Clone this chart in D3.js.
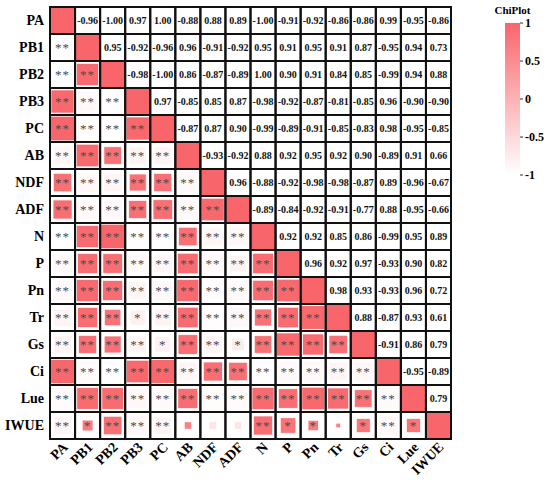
<!DOCTYPE html>
<html>
<head>
<meta charset="utf-8">
<script src="https://cdn.jsdelivr.net/npm/d3@7"></script>
<style>
  body { margin: 0; background: #fff; }
</style>
</head>
<body>
<div id="chart-container"></div>
<script>
// variables in matrix order
const vars = ["PA", "PB1", "PB2", "PB3", "PC", "AB", "NDF", "ADF", "N", "P", "Pn", "Tr", "Gs", "Ci", "Lue", "IWUE"];

// upper triangle, row by row (values right of the diagonal)
const rPA   = [-0.96, -1.00, 0.97, 1.00, -0.88, 0.88, 0.89, -1.00, -0.91, -0.92, -0.86, -0.86, 0.99, -0.95, -0.86];
const rPB1  = [0.95, -0.92, -0.96, 0.96, -0.91, -0.92, 0.95, 0.91, 0.95, 0.91, 0.87, -0.95, 0.94, 0.73];
const rPB2  = [-0.98, -1.00, 0.86, -0.87, -0.89, 1.00, 0.90, 0.91, 0.84, 0.85, -0.99, 0.94, 0.88];
const rPB3  = [0.97, -0.85, 0.85, 0.87, -0.98, -0.92, -0.87, -0.81, -0.85, 0.96, -0.90, -0.90];
const rPC   = [-0.87, 0.87, 0.90, -0.99, -0.89, -0.91, -0.85, -0.83, 0.98, -0.95, -0.85];
const rAB   = [-0.93, -0.92, 0.88, 0.92, 0.95, 0.92, 0.90, -0.89, 0.91, 0.66];
const rNDF  = [0.96, -0.88, -0.92, -0.98, -0.98, -0.87, 0.89, -0.96, -0.67];
const rADF  = [-0.89, -0.84, -0.92, -0.91, -0.77, 0.88, -0.95, -0.66];
const rN    = [0.92, 0.92, 0.85, 0.86, -0.99, 0.95, 0.89];
const rP    = [0.96, 0.92, 0.97, -0.93, 0.90, 0.82];
const rPn   = [0.98, 0.93, -0.93, 0.96, 0.72];
const rTr   = [0.88, -0.87, 0.93, 0.61];
const rGs   = [-0.91, 0.86, 0.79];
const rCi   = [-0.95, -0.89];
const rLue  = [0.79];
const upperRows = [rPA, rPB1, rPB2, rPB3, rPC, rAB, rNDF, rADF, rN, rP, rPn, rTr, rGs, rCi, rLue, []];

// significance cut-offs on |r| (n fixed)
const sig2 = 0.84;   // **
const sig1 = 0.70;   // *

const legendTicks = [1, 0.5, 0, -0.5, -1];
const legendTickLabels = ["1", "0.5", "0", "-0.5", "-1"];

// build full symmetric matrix
const n = vars.length;
const cells = [];
for (let i = 0; i < n; i++) {
    for (let j = 0; j < n; j++) {
        let r;
        if (i === j) r = 1;
        else if (j > i) r = upperRows[i][j - i - 1];
        else r = upperRows[j][i - j - 1];
        cells.push({ row: i, col: j, r: r });
    }
}

const width = 550, height = 485;
const svg = d3.select("#chart-container")
    .append("svg")
    .attr("width", width)
    .attr("height", height)
    .style("font-family", "'Liberation Serif', 'Times New Roman', serif");

const x = d3.scaleBand().domain(d3.range(n)).range([50, 451]);
const y = d3.scaleBand().domain(d3.range(n)).range([7, 439]);

const red = "#F8666B";
const color = d3.scaleLinear().domain([-1, 1]).range(["#ffffff", red]);
// side of the lower-triangle squares, relative to cell
const sizeScale = d3.scaleLinear().domain([0.52, 1]).range([0, 0.98]).clamp(true);

const stars = r => Math.abs(r) >= sig2 ? "**" : (Math.abs(r) >= sig1 ? "*" : "");

const g = svg.append("g");

// cell backgrounds
g.selectAll("rect.bg")
    .data(cells)
    .join("rect")
    .attr("class", "bg")
    .attr("x", d => x(d.col))
    .attr("y", d => y(d.row))
    .attr("width", x.bandwidth())
    .attr("height", y.bandwidth())
    .attr("fill", d => d.row === d.col ? red : "#fff");

// lower triangle squares
const lower = cells.filter(d => d.row > d.col);
g.selectAll("rect.sq")
    .data(lower)
    .join("rect")
    .attr("class", "sq")
    .attr("x", d => x(d.col) + x.bandwidth() * (1 - sizeScale(Math.abs(d.r))) / 2)
    .attr("y", d => y(d.row) + y.bandwidth() / 2 - x.bandwidth() * sizeScale(Math.abs(d.r)) / 2)
    .attr("width", d => x.bandwidth() * sizeScale(Math.abs(d.r)))
    .attr("height", d => x.bandwidth() * sizeScale(Math.abs(d.r)))
    .attr("fill", d => color(d.r))
    .attr("stroke", "#fff")
    .attr("stroke-width", 0.6);

g.selectAll("text.star")
    .data(lower)
    .join("text")
    .attr("class", "star")
    .attr("x", d => x(d.col) + x.bandwidth() / 2)
    .attr("y", d => y(d.row) + y.bandwidth() / 2 + 4.5)
    .attr("text-anchor", "middle")
    .style("font-size", "13px")
    .style("letter-spacing", "1px")
    .style("fill", "#4a4a4a")
    .text(d => stars(d.r));

// upper triangle numbers
const upper = cells.filter(d => d.row < d.col);
g.selectAll("text.val")
    .data(upper)
    .join("text")
    .attr("class", "val")
    .attr("x", d => x(d.col) + x.bandwidth() / 2)
    .attr("y", d => y(d.row) + y.bandwidth() / 2)
    .attr("dy", "0.35em")
    .attr("text-anchor", "middle")
    .style("font-size", "10px")
    .style("font-weight", "bold")
    .style("fill", "#111")
    .text(d => d.r.toFixed(2));

// grid lines
g.selectAll("rect.grid")
    .data(cells)
    .join("rect")
    .attr("class", "grid")
    .attr("x", d => x(d.col))
    .attr("y", d => y(d.row))
    .attr("width", x.bandwidth())
    .attr("height", y.bandwidth())
    .attr("fill", "none")
    .attr("stroke", "#111")
    .attr("stroke-width", 2);

// row labels
svg.append("g")
    .selectAll("text")
    .data(vars)
    .join("text")
    .attr("x", 44)
    .attr("y", (d, i) => y(i) + y.bandwidth() / 2)
    .attr("dy", "0.35em")
    .attr("text-anchor", "end")
    .style("font-size", "14px")
    .style("font-weight", "bold")
    .text(d => d);

// column labels, rotated
svg.append("g")
    .selectAll("text")
    .data(vars)
    .join("text")
    .attr("text-anchor", "end")
    .attr("transform", (d, i) => `translate(${x(i) + x.bandwidth() / 2 + 6},${448}) rotate(-45)`)
    .style("font-size", "14px")
    .style("font-weight", "bold")
    .text(d => d);

// colour legend
const lgX = 505, lgW = 15;
const ly = d3.scaleLinear().domain([-1, 1]).range([175, 23]);
const defs = svg.append("defs");
const grad = defs.append("linearGradient")
    .attr("id", "lg")
    .attr("x1", 0).attr("y1", 1).attr("x2", 0).attr("y2", 0);
grad.append("stop").attr("offset", "0%").attr("stop-color", color(-1));
grad.append("stop").attr("offset", "100%").attr("stop-color", color(1));

svg.append("rect")
    .attr("x", lgX)
    .attr("y", ly(1))
    .attr("width", lgW)
    .attr("height", ly(-1) - ly(1))
    .attr("fill", "url(#lg)");

svg.append("text")
    .attr("x", lgX + lgW / 2)
    .attr("y", 14)
    .attr("text-anchor", "middle")
    .style("font-size", "11px")
    .style("font-weight", "bold")
    .text("ChiPlot");

const lt = svg.append("g")
    .selectAll("g")
    .data(legendTicks)
    .join("g")
    .attr("transform", d => `translate(${lgX + lgW},${ly(d)})`);
lt.append("line")
    .attr("x1", 0).attr("x2", 3)
    .attr("stroke", "#333");
lt.append("text")
    .attr("x", 5)
    .attr("dy", "0.35em")
    .style("font-size", "12px")
    .style("font-weight", "bold")
    .text((d, i) => legendTickLabels[i]);
</script>
</body>
</html>
